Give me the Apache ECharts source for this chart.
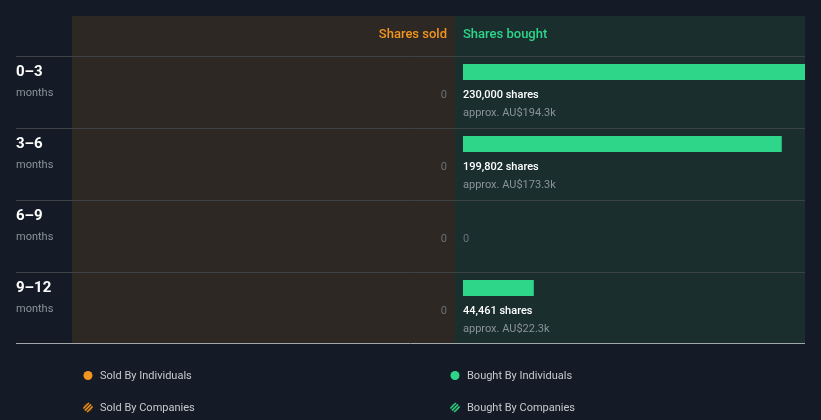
<!DOCTYPE html>
<html>
<head>
<meta charset="utf-8">
<script src="https://cdn.jsdelivr.net/npm/echarts@6/dist/echarts.min.js"></script>
<style>
html,body{margin:0;padding:0;background:#151b26;}
#c{width:821px;height:420px;}
</style>
</head>
<body>
<div id="c"></div>
<script>
const periods = ['0–3', '3–6', '6–9', '9–12'];
const periodUnit = 'months';
const sharesSold = [0, 0, 0, 0];
const sharesBought = [230000, 199802, 0, 44461];
const boughtValueLabels = ['AU$194.3k', 'AU$173.3k', '', 'AU$22.3k'];
const legendItems = ['Sold By Individuals', 'Bought By Individuals', 'Sold By Companies', 'Bought By Companies'];

const FONT = 'Roboto, "Noto Sans", sans-serif';
const ORANGE = '#f29420';
const GREEN = '#2ed68a';
const BG = '#151b26';

const chart = echarts.init(document.getElementById('c'), null, {renderer: 'canvas'});

function fmt(n){ return n.toLocaleString('en-US'); }

function boughtItem(params, api) {
  const idx = api.value(1);
  const v = api.value(0);
  const center = api.coord([30000, idx]);
  const band = api.size([0, 1])[1];
  const top = center[1] - band / 2;
  const x0 = api.coord([28950, idx])[0];
  const children = [];
  if (v > 0) {
    const x1 = api.coord([v, idx])[0];
    children.push({type: 'rect', shape: {x: x0, y: top + 8, width: x1 - x0, height: 16}, style: {fill: GREEN}});
    children.push({type: 'text', style: {x: x0, y: top + 39, text: fmt(v) + ' shares', fill: '#ffffff', font: '500 11px ' + FONT, verticalAlign: 'middle', align: 'left'}});
    children.push({type: 'text', style: {x: x0, y: top + 57, text: 'approx. ' + boughtValueLabels[idx], fill: '#8b9398', font: '11px ' + FONT, verticalAlign: 'middle', align: 'left'}});
  } else {
    children.push({type: 'text', style: {x: x0, y: top + 39, text: '0', fill: '#6b7378', font: '11px ' + FONT, verticalAlign: 'middle', align: 'left'}});
  }
  return {type: 'group', children: children};
}

function soldItem(params, api) {
  const idx = api.value(1);
  const v = api.value(0);
  const c = api.coord([v, idx]);
  const band = api.size([0, 1])[1];
  const top = c[1] - band / 2;
  return {type: 'group', children: [
    {type: 'text', style: {x: c[0] - 8, y: top + 39, text: fmt(v), fill: '#6b7378', font: '11px ' + FONT, verticalAlign: 'middle', align: 'right'}}
  ]};
}

function hatchIcon(cx, cy, color) {
  const r = 4.5;
  const kids = [{type: 'circle', shape: {cx: cx, cy: cy, r: r}, style: {fill: color === GREEN ? '#1d3a2e' : '#4a3318'}}];
  [-2.6, 0, 2.6].forEach(function(o){
    const half = Math.sqrt(Math.max(r*r - o*o/2, 0)) * 0.95;
    const mx = cx + o / Math.SQRT2, my = cy + o / Math.SQRT2;
    const d = half / Math.SQRT2;
    kids.push({type: 'line', shape: {x1: mx - d, y1: my + d, x2: mx + d, y2: my - d}, style: {stroke: color, lineWidth: 1.3}});
  });
  return {type: 'group', children: kids};
}

const graphics = [
  {type: 'rect', z: -10, shape: {x: 72, y: 16, width: 383, height: 328}, style: {fill: '#2d2823'}},
  {type: 'rect', z: -10, shape: {x: 455, y: 16, width: 350, height: 328}, style: {fill: '#1a2e2e'}},
  {type: 'text', style: {x: 447, y: 35, text: 'Shares sold', fill: ORANGE, font: '500 13px ' + FONT, align: 'right', verticalAlign: 'middle'}},
  {type: 'text', style: {x: 463, y: 35, text: 'Shares bought', fill: GREEN, font: '500 13px ' + FONT, align: 'left', verticalAlign: 'middle'}},
  {type: 'line', z: 5, shape: {x1: 16, y1: 56.5, x2: 805, y2: 56.5}, style: {stroke: '#3d4246', lineWidth: 1}},
  {type: 'line', z: 5, shape: {x1: 16, y1: 128.5, x2: 805, y2: 128.5}, style: {stroke: '#3d4246', lineWidth: 1}},
  {type: 'line', z: 5, shape: {x1: 16, y1: 200.5, x2: 805, y2: 200.5}, style: {stroke: '#3d4246', lineWidth: 1}},
  {type: 'line', z: 5, shape: {x1: 16, y1: 272.5, x2: 805, y2: 272.5}, style: {stroke: '#3d4246', lineWidth: 1}},
  {type: 'line', z: 5, shape: {x1: 16, y1: 343.5, x2: 805, y2: 343.5}, style: {stroke: '#a3a7ab', lineWidth: 1}},
  {type: 'circle', shape: {cx: 88, cy: 375.5, r: 4.5}, style: {fill: ORANGE}},
  {type: 'text', style: {x: 100, y: 376, text: legendItems[0], fill: '#c6cacd', font: '11px ' + FONT, verticalAlign: 'middle'}},
  {type: 'circle', shape: {cx: 455, cy: 375.5, r: 4.5}, style: {fill: GREEN}},
  {type: 'text', style: {x: 467, y: 376, text: legendItems[1], fill: '#c6cacd', font: '11px ' + FONT, verticalAlign: 'middle'}},
  hatchIcon(88, 407.5, ORANGE),
  {type: 'text', style: {x: 100, y: 408, text: legendItems[2], fill: '#c6cacd', font: '11px ' + FONT, verticalAlign: 'middle'}},
  hatchIcon(455, 407.5, GREEN),
  {type: 'text', style: {x: 467, y: 408, text: legendItems[3], fill: '#c6cacd', font: '11px ' + FONT, verticalAlign: 'middle'}}
];

const option = {
  backgroundColor: BG,
  animation: false,
  textStyle: {fontFamily: FONT},
  graphic: graphics,
  grid: [
    {left: 72, right: 366, top: 56, height: 288, outerBoundsMode: 'none', containLabel: false},
    {left: 463, right: 16, top: 56, height: 288, outerBoundsMode: 'none', containLabel: false}
  ],
  xAxis: [
    {gridIndex: 0, type: 'value', min: 0, max: 1, inverse: true, show: false},
    {gridIndex: 1, type: 'log', min: 28950, max: 230000, show: false}
  ],
  yAxis: [
    {gridIndex: 0, type: 'category', data: periods, inverse: true, show: false},
    {gridIndex: 1, type: 'category', data: periods, inverse: true,
     axisLine: {show: false}, axisTick: {show: false}, splitLine: {show: false},
     axisLabel: {
       align: 'left', margin: 447, verticalAlign: 'middle',
       formatter: function(v){ return '{a|' + v + '}\n{b|' + periodUnit + '}'; },
       rich: {
         a: {fontFamily: FONT, fontSize: 15, fontWeight: 'bold', color: '#ffffff', lineHeight: 22},
         b: {fontFamily: FONT, fontSize: 11, color: '#8b9398', lineHeight: 20}
       },
       padding: [0, 0, 20, 0]
     }}
  ],
  series: [
    {type: 'custom', xAxisIndex: 0, yAxisIndex: 0, renderItem: soldItem,
     data: sharesSold.map(function(v, i){ return [v, i]; }), encode: {x: 0, y: 1}},
    {type: 'custom', xAxisIndex: 1, yAxisIndex: 1, renderItem: boughtItem,
     data: sharesBought.map(function(v, i){ return [v, i]; }), encode: {x: 0, y: 1}}
  ]
};
chart.setOption(option);
</script>
</body>
</html>
